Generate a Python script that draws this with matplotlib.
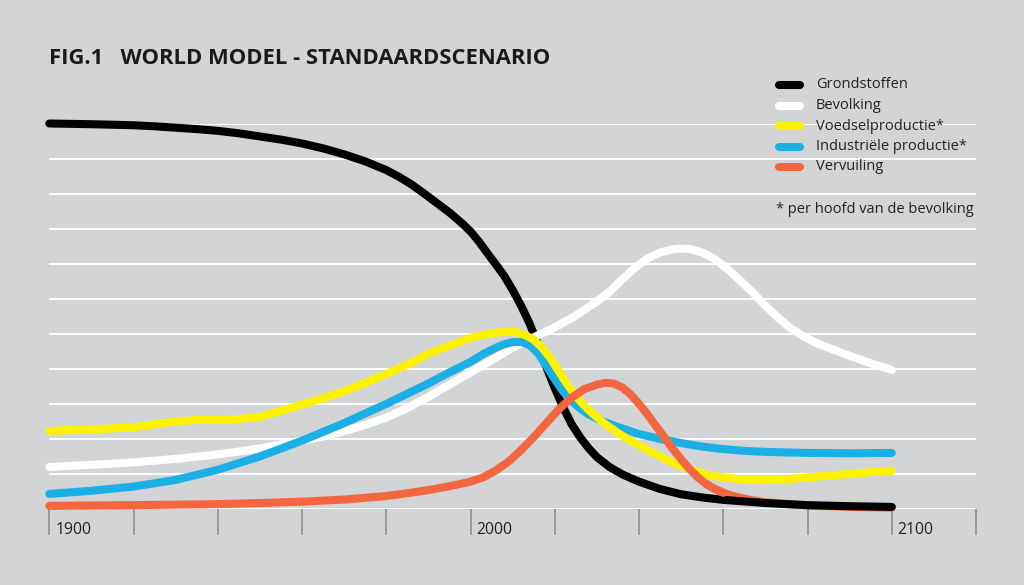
import numpy as np
import matplotlib.pyplot as plt
from matplotlib.lines import Line2D

plt.rcParams['font.family'] = ['Open Sans', 'DejaVu Sans']

# --- data (value units = one gridline step) ---
grond_years = [1900, 1910, 1920, 1925, 1930, 1935, 1940, 1945, 1950, 1955, 1960, 1965,
               1970, 1975, 1980, 1983, 1986, 1989, 1992, 1995, 1998, 2000, 2002, 2004,
               2006, 2008, 2010, 2012, 2014, 2016, 2018, 2020, 2022, 2024, 2026, 2028,
               2030, 2033, 2036, 2040, 2045, 2050, 2055, 2060, 2070, 2080, 2090, 2100]
grond = [11.0, 10.98, 10.95, 10.92, 10.88, 10.84, 10.79, 10.72, 10.63, 10.54, 10.43, 10.29,
         10.12, 9.92, 9.67, 9.48, 9.26, 9.0, 8.73, 8.46, 8.15, 7.92, 7.63, 7.3,
         6.98, 6.65, 6.25, 5.8, 5.3, 4.7, 4.05, 3.45, 2.9, 2.42, 2.05, 1.74,
         1.48, 1.2, 0.99, 0.78, 0.57, 0.42, 0.33, 0.26, 0.17, 0.11, 0.08, 0.06]

bev_years = [1900, 1910, 1920, 1930, 1940, 1945, 1950, 1955, 1960, 1965, 1970, 1975,
             1980, 1985, 1990, 1995, 2000, 2005, 2010, 2015, 2020, 2025, 2030, 2033,
             2036, 2039, 2042, 2045, 2048, 2050, 2052, 2055, 2058, 2061, 2064, 2067,
             2070, 2073, 2076, 2079, 2082, 2085, 2088, 2091, 2094, 2097, 2100]
bev = [1.2, 1.26, 1.33, 1.43, 1.56, 1.64, 1.73, 1.84, 1.95, 2.07, 2.22, 2.4,
       2.61, 2.88, 3.2, 3.55, 3.9, 4.25, 4.6, 4.9, 5.18, 5.52, 5.92, 6.2,
       6.55, 6.88, 7.15, 7.32, 7.41, 7.43, 7.42, 7.32, 7.13, 6.85, 6.52, 6.18,
       5.8, 5.46, 5.16, 4.93, 4.74, 4.6, 4.46, 4.33, 4.2, 4.08, 3.97]

voedsel_years = [1900, 1910, 1920, 1925, 1930, 1935, 1940, 1945, 1950, 1955, 1960, 1965,
                 1970, 1975, 1980, 1985, 1990, 1995, 2000, 2003, 2006, 2009, 2011, 2013,
                 2015, 2017, 2019, 2021, 2023, 2025, 2027, 2029, 2032, 2035, 2038, 2041,
                 2044, 2047, 2050, 2053, 2056, 2060, 2065, 2070, 2075, 2080, 2085, 2090,
                 2095, 2100]
voedsel = [2.23, 2.27, 2.33, 2.42, 2.5, 2.54, 2.55, 2.57, 2.63, 2.8, 2.98, 3.16,
           3.36, 3.6, 3.85, 4.12, 4.43, 4.66, 4.88, 4.97, 5.03, 5.06, 5.04, 4.96,
           4.83, 4.6, 4.3, 3.92, 3.55, 3.22, 2.95, 2.72, 2.42, 2.17, 1.95, 1.75,
           1.56, 1.38, 1.22, 1.09, 0.98, 0.9, 0.84, 0.82, 0.85, 0.9, 0.95, 1.0,
           1.05, 1.09]

industrie_years = [1900, 1910, 1920, 1930, 1940, 1950, 1960, 1970, 1980, 1990, 1995, 2000,
                   2003, 2006, 2008, 2010, 2012, 2014, 2016, 2018, 2020, 2022, 2024, 2026,
                   2028, 2031, 2035, 2040, 2045, 2050, 2055, 2060, 2065, 2070, 2080, 2090,
                   2100]
industrie = [0.43, 0.52, 0.64, 0.83, 1.12, 1.5, 1.95, 2.45, 3.0, 3.58, 3.9, 4.2,
             4.42, 4.6, 4.7, 4.76, 4.77, 4.68, 4.45, 4.08, 3.7, 3.35, 3.08, 2.87,
             2.7, 2.52, 2.34, 2.14, 2.0, 1.88, 1.78, 1.71, 1.66, 1.63, 1.6, 1.59,
             1.6]

vervuiling_years = [1900, 1920, 1940, 1950, 1960, 1970, 1980, 1985, 1990, 1995, 2000, 2003,
                    2006, 2009, 2012, 2015, 2018, 2021, 2024, 2027, 2030, 2032, 2034, 2036,
                    2038, 2040, 2042, 2044, 2046, 2048, 2050, 2052, 2054, 2056, 2058, 2060,
                    2063, 2066, 2070, 2080, 2090, 2100]
vervuiling = [0.09, 0.11, 0.14, 0.17, 0.21, 0.27, 0.37, 0.45, 0.54, 0.65, 0.78, 0.9,
              1.1, 1.35, 1.68, 2.05, 2.45, 2.85, 3.18, 3.42, 3.55, 3.6, 3.58, 3.47,
              3.27, 3.0, 2.7, 2.37, 2.05, 1.72, 1.42, 1.14, 0.9, 0.71, 0.57, 0.46,
              0.35, 0.27, 0.19, 0.1, 0.06, 0.04]

labels = ['Grondstoffen', 'Bevolking', 'Voedselproductie*', 'Industriële productie*', 'Vervuiling']
colors = ['#000000', '#ffffff', '#fff200', '#1bafe6', '#f4663f']
tick_years = list(range(1900, 2121, 20))
year_labels = ['1900', '2000', '2100']

bg = '#d3d4d6'
fig = plt.figure(figsize=(10.24, 5.85), dpi=100, facecolor=bg)
ax = fig.add_axes([49.3 / 1024, 76 / 585, (976 - 49.3) / 1024, 385.5 / 585])
ax.set_facecolor(bg)
ax.set_xlim(1900, 2120)
ax.set_ylim(0, 11)
for s in ax.spines.values():
    s.set_visible(False)

# gridlines
for g in range(0, 12):
    ax.axhline(g, color='white', lw=1.4, zorder=1)

ax.set_yticks([])
ax.set_xticks(tick_years)
ax.tick_params(axis='x', direction='out', length=19, width=1.2, color='#8e8f91', labelbottom=False)
for yl in year_labels:
    ax.text(int(yl) + 1.4, -0.6, yl, fontsize=11.3, color='#1e1e1e', va='center', ha='left')

lw = 5.8
kw = dict(lw=lw, solid_capstyle='round', solid_joinstyle='round', clip_on=False)
ax.plot(grond_years, grond, color=colors[0], zorder=3, **kw)
ax.plot(bev_years, bev, color=colors[1], zorder=4, **kw)
ax.plot(industrie_years, industrie, color=colors[3], zorder=5, **kw)
ax.plot(voedsel_years, voedsel, color=colors[2], zorder=6, **kw)
# pollution: main part on top, tail slides under the black line
vy = np.array(vervuiling_years)
vv = np.array(vervuiling)
ax.plot(vy[vy <= 2060], vv[vy <= 2060], color=colors[4], zorder=7, **kw)
ax.plot(vy[vy >= 2056], vv[vy >= 2056], color=colors[4], zorder=2, **kw)

# title
fig.text(49 / 1024, 1 - 58 / 585, 'FIG.1   WORLD MODEL - STANDAARDSCENARIO',
         fontsize=15.8, fontweight='bold', color='#1a1a1a', va='center', ha='left')

# legend
row_y = [85, 105.5, 126, 146.5, 167]
for lab, col, py in zip(labels, colors, row_y):
    yf = 1 - py / 585
    fig.add_artist(Line2D([779 / 1024, 800 / 1024], [yf, yf], color=col, lw=lw,
                          solid_capstyle='round', transform=fig.transFigure))
    fig.text(816 / 1024, yf, lab, fontsize=10.5, color='#222222', va='center', ha='left')
fig.text(776 / 1024, 1 - 209 / 585, '* per hoofd van de bevolking',
         fontsize=10.5, color='#222222', va='center', ha='left')

fig.savefig('out.png', dpi=100, facecolor=bg)
